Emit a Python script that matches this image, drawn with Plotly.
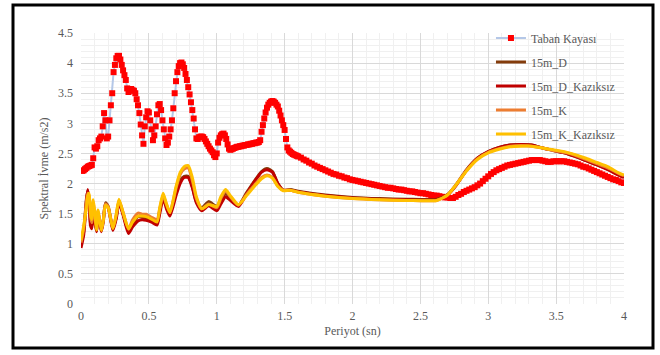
import numpy as np
import plotly.graph_objects as go

# ---------------- data ----------------
# Taban Kayası (bedrock) - dense samples
taban_x1 = [round(v, 2) for v in np.arange(0.01, 1.605, 0.01)]
taban_y1 = [
    2.21, 2.22, 2.24, 2.26, 2.28, 2.29, 2.30, 2.31, 2.42, 2.60,
    2.58, 2.62, 2.72, 2.75, 2.78, 2.95, 3.17, 3.05, 2.75, 2.78,
    3.05, 3.30, 3.50, 3.85, 3.97, 4.08, 4.12, 4.12, 4.06, 3.97,
    3.88, 3.80, 3.72, 3.58, 3.52, 3.56, 3.57, 3.55, 3.54, 3.50,
    3.40, 3.30, 3.17, 2.98, 2.80, 2.66, 2.95, 3.10, 3.20, 3.18,
    3.05, 2.90, 2.72, 2.80, 2.95, 3.15, 3.30, 3.32, 3.22, 3.05,
    2.90, 2.75, 2.64, 2.68, 2.78, 2.90, 3.05, 3.25, 3.50, 3.70,
    3.85, 3.95, 4.00, 4.01, 3.98, 3.92, 3.82, 3.72, 3.60, 3.48,
    3.35, 3.22, 3.08, 2.90, 2.75, 2.74, 2.77, 2.78, 2.78, 2.77,
    2.74, 2.70, 2.66, 2.62, 2.58, 2.55, 2.52, 2.47, 2.44, 2.50,
    2.68, 2.76, 2.80, 2.82, 2.83, 2.80, 2.74, 2.65, 2.58, 2.56,
    2.57, 2.58, 2.59, 2.60, 2.61, 2.61, 2.62, 2.62, 2.63, 2.63,
    2.64, 2.64, 2.65, 2.65, 2.66, 2.66, 2.67, 2.67, 2.68, 2.68,
    2.69, 2.72, 2.86, 2.97, 3.08, 3.18, 3.26, 3.31, 3.34, 3.36,
    3.37, 3.36, 3.34, 3.31, 3.28, 3.21, 3.13, 3.05, 2.97, 2.89,
    2.74, 2.60, 2.55, 2.53, 2.51, 2.49, 2.48, 2.47, 2.46, 2.45,
]
taban_x2 = [round(v, 2) for v in np.arange(1.62, 4.005, 0.02)]
taban_y2 = [
    2.43, 2.40, 2.38, 2.35, 2.33, 2.30, 2.28, 2.26, 2.24, 2.22,
    2.20, 2.18, 2.16, 2.15, 2.13, 2.12, 2.10, 2.09, 2.07, 2.06,
    2.05, 2.04, 2.03, 2.02, 2.01, 2.00, 1.99, 1.98, 1.97, 1.96,
    1.95, 1.94, 1.93, 1.93, 1.92, 1.91, 1.90, 1.90, 1.89, 1.88,
    1.87, 1.87, 1.86, 1.85, 1.84, 1.84, 1.83, 1.82, 1.81, 1.80,
    1.80, 1.79, 1.78, 1.77, 1.77, 1.76, 1.76, 1.78, 1.81, 1.83,
    1.86, 1.88, 1.90, 1.92, 1.94, 1.97, 2.00, 2.04, 2.08, 2.12,
    2.16, 2.19, 2.22, 2.24, 2.26, 2.28, 2.30, 2.31, 2.32, 2.33,
    2.34, 2.35, 2.36, 2.37, 2.38, 2.39, 2.39, 2.39, 2.39, 2.38,
    2.37, 2.36, 2.36, 2.37, 2.37, 2.37, 2.37, 2.37, 2.36, 2.35,
    2.34, 2.33, 2.32, 2.30, 2.28, 2.27, 2.25, 2.23, 2.21, 2.19,
    2.17, 2.15, 2.13, 2.11, 2.09, 2.07, 2.06, 2.04, 2.02, 2.01,
]
taban_x = taban_x1 + taban_x2
taban_y = taban_y1 + taban_y2

# 15m series - shared periods
periods = [0.00, 0.02, 0.04, 0.05, 0.06, 0.07, 0.08, 0.09, 0.10, 0.115,
           0.125, 0.15, 0.165, 0.18, 0.20, 0.235, 0.26, 0.28, 0.31, 0.35,
           0.38, 0.42, 0.45, 0.48, 0.52, 0.56, 0.58, 0.605, 0.63, 0.655,
           0.70, 0.73, 0.76, 0.79, 0.82, 0.85, 0.89, 0.94, 1.00, 1.03,
           1.065, 1.10, 1.16, 1.22, 1.28, 1.33, 1.37, 1.41, 1.45, 1.49,
           1.54, 1.61, 1.80, 2.00, 2.20, 2.40, 2.62, 2.70, 2.76, 2.84,
           2.92, 3.00, 3.08, 3.16, 3.24, 3.32, 3.40, 3.48, 3.56, 3.64,
           3.72, 3.80, 3.88, 3.96, 4.00]

d_15m = [0.98, 1.20, 1.75, 1.88, 1.70, 1.35, 1.28, 1.60, 1.45, 1.22,
         1.52, 1.22, 1.40, 1.68, 1.62, 1.24, 1.45, 1.70, 1.50, 1.20,
         1.32, 1.45, 1.44, 1.43, 1.38, 1.34, 1.55, 1.78, 1.62, 1.50,
         1.85, 2.05, 2.12, 2.12, 1.95, 1.70, 1.60, 1.70, 1.62, 1.72,
         1.84, 1.75, 1.64, 1.85, 2.05, 2.20, 2.25, 2.20, 2.00, 1.89,
         1.90, 1.87, 1.81, 1.77, 1.75, 1.74, 1.74, 1.82, 1.97, 2.23,
         2.42, 2.53, 2.60, 2.64, 2.65, 2.64, 2.59, 2.55, 2.51, 2.45,
         2.38, 2.31, 2.24, 2.15, 2.11]

d_kaziksiz = [0.93, 1.15, 1.72, 1.90, 1.68, 1.30, 1.25, 1.52, 1.40, 1.20,
              1.48, 1.20, 1.38, 1.65, 1.60, 1.22, 1.42, 1.68, 1.48, 1.17,
              1.28, 1.38, 1.40, 1.39, 1.36, 1.31, 1.50, 1.75, 1.58, 1.46,
              1.80, 2.00, 2.10, 2.10, 1.93, 1.68, 1.55, 1.63, 1.55, 1.66,
              1.78, 1.72, 1.62, 1.83, 2.04, 2.19, 2.23, 2.19, 2.00, 1.89,
              1.89, 1.86, 1.80, 1.76, 1.74, 1.73, 1.73, 1.81, 1.96, 2.22,
              2.42, 2.53, 2.60, 2.64, 2.65, 2.64, 2.59, 2.55, 2.51, 2.45,
              2.38, 2.31, 2.23, 2.14, 2.10]

k_15m = [1.02, 1.25, 1.70, 1.84, 1.80, 1.45, 1.35, 1.70, 1.50, 1.25,
         1.55, 1.24, 1.42, 1.66, 1.62, 1.26, 1.48, 1.72, 1.52, 1.24,
         1.40, 1.51, 1.49, 1.49, 1.44, 1.40, 1.58, 1.80, 1.65, 1.52,
         1.92, 2.15, 2.24, 2.26, 2.05, 1.75, 1.58, 1.66, 1.60, 1.75,
         1.88, 1.78, 1.64, 1.82, 1.98, 2.10, 2.14, 2.10, 1.96, 1.89,
         1.89, 1.85, 1.79, 1.75, 1.73, 1.72, 1.72, 1.81, 1.97, 2.22,
         2.41, 2.52, 2.58, 2.62, 2.63, 2.62, 2.59, 2.55, 2.52, 2.47,
         2.40, 2.33, 2.26, 2.17, 2.13]

k_kaziksiz = [1.06, 1.30, 1.60, 1.80, 1.84, 1.50, 1.40, 1.73, 1.55, 1.23,
              1.56, 1.22, 1.40, 1.64, 1.60, 1.25, 1.50, 1.74, 1.52, 1.25,
              1.36, 1.46, 1.46, 1.45, 1.41, 1.36, 1.60, 1.84, 1.66, 1.52,
              1.95, 2.18, 2.28, 2.30, 2.10, 1.78, 1.58, 1.65, 1.62, 1.78,
              1.90, 1.80, 1.65, 1.80, 1.96, 2.08, 2.13, 2.09, 1.95, 1.88,
              1.89, 1.85, 1.79, 1.75, 1.73, 1.72, 1.72, 1.81, 1.97, 2.21,
              2.40, 2.51, 2.57, 2.61, 2.62, 2.62, 2.59, 2.56, 2.53, 2.48,
              2.42, 2.35, 2.28, 2.18, 2.14]

series_names = ["Taban Kayası", "15m_D", "15m_D_Kazıksız", "15m_K", "15m_K_Kazıksız"]
series_colors = ["#FF0000", "#843C0C", "#C00000", "#ED7D31", "#FFC000"]

x_ticks = [0, 0.5, 1, 1.5, 2, 2.5, 3, 3.5, 4]
y_ticks = [0, 0.5, 1, 1.5, 2, 2.5, 3, 3.5, 4, 4.5]

# ---------------- figure ----------------
FONT = "Liberation Serif, Times New Roman, serif"
GRAY = "#595959"

fig = go.Figure()
fig.add_trace(go.Scatter(
    x=taban_x, y=taban_y, name=series_names[0], mode="lines+markers",
    line=dict(color="#B4C7E7", width=2),
    marker=dict(symbol="square", size=6, color=series_colors[0]),
    legendgroup="g0",
))
for i, ys in enumerate([d_15m, d_kaziksiz, k_15m, k_kaziksiz], start=1):
    fig.add_trace(go.Scatter(
        x=periods, y=ys, name=series_names[i], mode="lines",
        line=dict(color=series_colors[i], width=3, shape="spline", smoothing=0.6),
        legendgroup="g%d" % i,
    ))

fig.update_layout(
    width=660, height=355,
    margin=dict(l=81, r=36, t=33, b=51),
    paper_bgcolor="white", plot_bgcolor="white",
    font=dict(family=FONT, size=12, color=GRAY),
    showlegend=True,
    legend=dict(
        x=0.755, y=1.035, xanchor="left", yanchor="top",
        bgcolor="rgba(0,0,0,0)", font=dict(family=FONT, size=12, color=GRAY),
        itemwidth=30, tracegroupgap=5, traceorder="grouped",
    ),
    xaxis=dict(
        range=[0, 4], tickvals=x_ticks, ticktext=[str(v) if v % 1 else str(int(v)) for v in x_ticks],
        showgrid=True, gridcolor="#D9D9D9", gridwidth=1,
        minor=dict(dtick=0.1, showgrid=True, gridcolor="#F0F0F0", gridwidth=1),
        zeroline=False, showline=False, ticks="", ticklabelstandoff=3,
        title=dict(text="Periyot (sn)", font=dict(family=FONT, size=12, color=GRAY), standoff=4),
        tickfont=dict(family=FONT, size=12, color=GRAY),
    ),
    yaxis=dict(
        range=[0, 4.5], tickvals=y_ticks, ticktext=[str(v) if v % 1 else str(int(v)) for v in y_ticks],
        showgrid=True, gridcolor="#D9D9D9", gridwidth=1,
        minor=dict(dtick=0.1, showgrid=True, gridcolor="#F0F0F0", gridwidth=1),
        zeroline=False, showline=False, ticks="", ticklabelstandoff=7,
        title=dict(text="Spektral İvme (m/s2)", font=dict(family=FONT, size=12, color=GRAY), standoff=6),
        tickfont=dict(family=FONT, size=12, color=GRAY),
    ),
    shapes=[dict(
        type="rect", xref="paper", yref="paper",
        x0=(13 - 81) / 543, x1=(653 - 81) / 543,
        y0=(304 - 348) / 271, y1=(304 - 5) / 271,
        line=dict(color="black", width=3), fillcolor="rgba(0,0,0,0)", layer="above",
    )],
)

fig.write_html(
    "out.html",
    config={"displayModeBar": False},
    post_script="document.body.style.margin='0';document.body.style.overflow='hidden';",
)
